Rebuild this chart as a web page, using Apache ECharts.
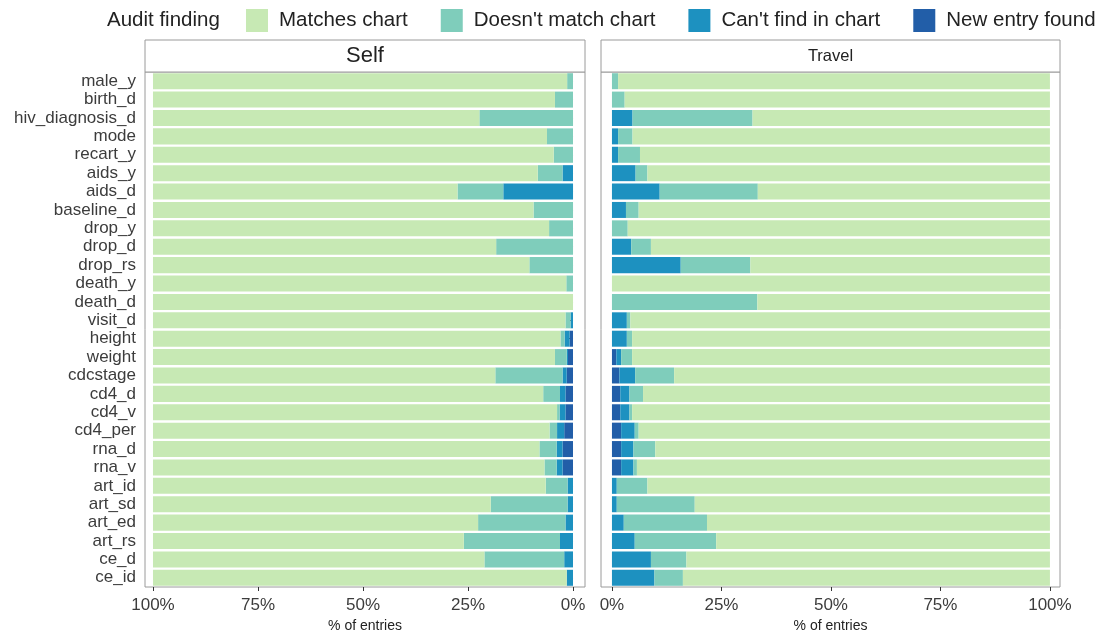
<!DOCTYPE html>
<html>
<head>
<meta charset="utf-8">
<script src="https://cdn.jsdelivr.net/npm/echarts@6/dist/echarts.min.js"></script>
<style>
  html, body { margin: 0; padding: 0; background: #fff; }
  #chart { width: 1107px; height: 635px; }
</style>
</head>
<body>
<div id="chart"></div>
<script>
const categories = [
  'male_y', 'birth_d', 'hiv_diagnosis_d', 'mode', 'recart_y', 'aids_y', 'aids_d',
  'baseline_d', 'drop_y', 'drop_d', 'drop_rs', 'death_y', 'death_d', 'visit_d',
  'height', 'weight', 'cdcstage', 'cd4_d', 'cd4_v', 'cd4_per', 'rna_d', 'rna_v',
  'art_id', 'art_sd', 'art_ed', 'art_rs', 'ce_d', 'ce_id',
]
const tickValues = [0, 25, 50, 75, 100]

// Self panel (% of entries)
const selfMatches = [98.6, 95.7, 77.7, 93.8, 95.4, 91.6, 72.5, 90.6, 94.3, 81.7, 89.6, 98.4, 100, 98.2,
  97.0, 95.7, 81.5, 92.9, 96.2, 94.4, 92.0, 93.2, 93.5, 80.4, 77.4, 74.0, 78.9, 98.5]
const selfNoMatch = [1.4, 4.3, 22.3, 6.2, 4.6, 5.9, 10.9, 9.4, 5.7, 18.3, 10.4, 1.6, 0, 1.2,
  1.0, 2.8, 16.0, 4.0, 0.6, 1.8, 4.1, 2.9, 5.2, 18.3, 20.8, 22.9, 19.0, 0]
const selfCantFind = [0, 0, 0, 0, 0, 2.5, 16.6, 0, 0, 0, 0, 0, 0, 0.6,
  1.2, 0.3, 1.0, 1.3, 1.4, 1.7, 1.4, 1.4, 1.3, 1.3, 1.8, 3.1, 2.1, 1.5]
const selfNewEntry = [0, 0, 0, 0, 0, 0, 0, 0, 0, 0, 0, 0, 0, 0,
  0.8, 1.2, 1.5, 1.8, 1.8, 2.1, 2.5, 2.5, 0, 0, 0, 0, 0, 0]

// Travel panel (% of entries)
const travelMatches = [98.6, 97.1, 67.9, 95.3, 93.6, 91.9, 66.7, 93.9, 96.4, 91.1, 68.4, 100, 66.8, 95.8,
  95.4, 95.4, 85.8, 92.9, 95.4, 93.9, 90.1, 94.3, 91.9, 81.1, 78.3, 76.2, 83.0, 83.8]
const travelNoMatch = [1.4, 2.9, 27.4, 3.3, 5.0, 2.7, 22.4, 2.9, 3.6, 4.5, 15.9, 0, 33.2, 0.8,
  1.2, 2.5, 8.9, 3.1, 0.6, 0.9, 5.0, 0.8, 7.0, 17.8, 19.0, 18.6, 8.1, 6.5]
const travelCantFind = [0, 0, 4.7, 1.4, 1.4, 5.4, 10.9, 3.2, 0, 4.4, 15.7, 0, 0, 3.4,
  3.4, 1.1, 3.6, 2.1, 2.1, 3.1, 2.8, 2.8, 1.1, 1.1, 2.7, 5.2, 8.9, 9.7]
const travelNewEntry = [0, 0, 0, 0, 0, 0, 0, 0, 0, 0, 0, 0, 0, 0,
  0, 1.0, 1.7, 1.9, 1.9, 2.1, 2.1, 2.1, 0, 0, 0, 0, 0, 0]

const findings = ['Matches chart', "Doesn't match chart", "Can't find in chart", 'New entry found']
const colors = {
  'Matches chart': '#c7e9b4',
  "Doesn't match chart": '#7fcdbb',
  "Can't find in chart": '#1d91c0',
  'New entry found': '#225ea8',
}

const FONT = 'Liberation Sans, Arial, Helvetica, sans-serif'
const TEXT = '#3c3c3c'
const BORDER = '#9a9a9a'
const STRIP_TOP = 40
const STRIP_H = 32
const panels = [
  { name: 'Self', left: 145, right: 585, titleSize: 22, min: -2.85, max: 101.9, inverse: true },
  { name: 'Travel', left: 601, right: 1060, titleSize: 16.5, min: -2.5, max: 102.3, inverse: false },
]

const chart = echarts.init(document.getElementById('chart'), null, { renderer: 'canvas' })

function xAxisFor(idx) {
  const p = panels[idx]
  return {
    type: 'value',
    gridIndex: idx,
    inverse: p.inverse,
    min: p.min,
    max: p.max,
    name: '% of entries',
    nameLocation: 'middle',
    nameGap: 31,
    nameTextStyle: { fontSize: 14, color: '#222', fontFamily: FONT },
    axisLine: { show: false },
    axisTick: { show: true, customValues: tickValues, length: 4, lineStyle: { color: '#333' } },
    axisLabel: {
      customValues: tickValues,
      fontSize: 17,
      color: TEXT,
      margin: 10,
      fontFamily: FONT,
      formatter: (v) => v + '%',
    },
    splitLine: { show: false },
  }
}

function yAxisFor(idx, showLabels) {
  return {
    type: 'category',
    gridIndex: idx,
    data: categories,
    inverse: true,
    axisLine: { show: false },
    axisTick: { show: showLabels, length: 5, alignWithLabel: true, lineStyle: { color: '#333' } },
    axisLabel: { show: showLabels, interval: 0, fontSize: 17, color: TEXT, margin: 9, fontFamily: FONT },
    splitLine: { show: false },
  }
}

function seriesFor(idx, values) {
  // stack from 0 outward: new entry, can't find, doesn't match, matches
  const order = ['New entry found', "Can't find in chart", "Doesn't match chart", 'Matches chart']
  return order.map((name) => ({
    name,
    type: 'bar',
    stack: 'p' + idx,
    xAxisIndex: idx,
    yAxisIndex: idx,
    data: values[name],
    barWidth: '87%',
    itemStyle: { color: colors[name] },
    silent: true,
    animation: false,
  }))
}

const option = {
  animation: false,
  textStyle: { fontFamily: FONT },
  legend: {
    data: findings,
    left: 241,
    top: 4,
    icon: 'rect',
    itemWidth: 22,
    itemHeight: 23,
    itemGap: 33,
    textStyle: { fontSize: 20.5, color: '#222', fontFamily: FONT, padding: [0, 0, 0, 6] },
    selectedMode: false,
  },
  grid: panels.map((p) => ({
    left: p.left,
    width: p.right - p.left,
    top: STRIP_TOP + STRIP_H,
    bottom: 48,
    outerBoundsMode: 'none',
    show: true,
    backgroundColor: '#fff',
    borderColor: BORDER,
    borderWidth: 1,
    containLabel: false,
  })),
  xAxis: [xAxisFor(0), xAxisFor(1)],
  yAxis: [yAxisFor(0, true), yAxisFor(1, false)],
  series: [
    ...seriesFor(0, {
      'Matches chart': selfMatches,
      "Doesn't match chart": selfNoMatch,
      "Can't find in chart": selfCantFind,
      'New entry found': selfNewEntry,
    }),
    ...seriesFor(1, {
      'Matches chart': travelMatches,
      "Doesn't match chart": travelNoMatch,
      "Can't find in chart": travelCantFind,
      'New entry found': travelNewEntry,
    }),
  ],
  graphic: [
    {
      type: 'text',
      x: 107,
      y: 20,
      style: { text: 'Audit finding', fontSize: 20.5, fill: '#222', fontFamily: FONT, verticalAlign: 'middle' },
    },
    ...panels.map((p) => ({
      type: 'group',
      x: p.left,
      y: STRIP_TOP,
      children: [
        {
          type: 'rect',
          shape: { x: 0, y: 0, width: p.right - p.left, height: STRIP_H },
          style: { fill: '#fff', stroke: BORDER, lineWidth: 1 },
        },
        {
          type: 'text',
          x: (p.right - p.left) / 2,
          y: STRIP_H / 2,
          style: {
            text: p.name,
            fontSize: p.titleSize,
            fill: '#222',
            fontFamily: FONT,
            align: 'center',
            verticalAlign: 'middle',
          },
        },
      ],
    })),
  ],
}

chart.setOption(option)
</script>
</body>
</html>
